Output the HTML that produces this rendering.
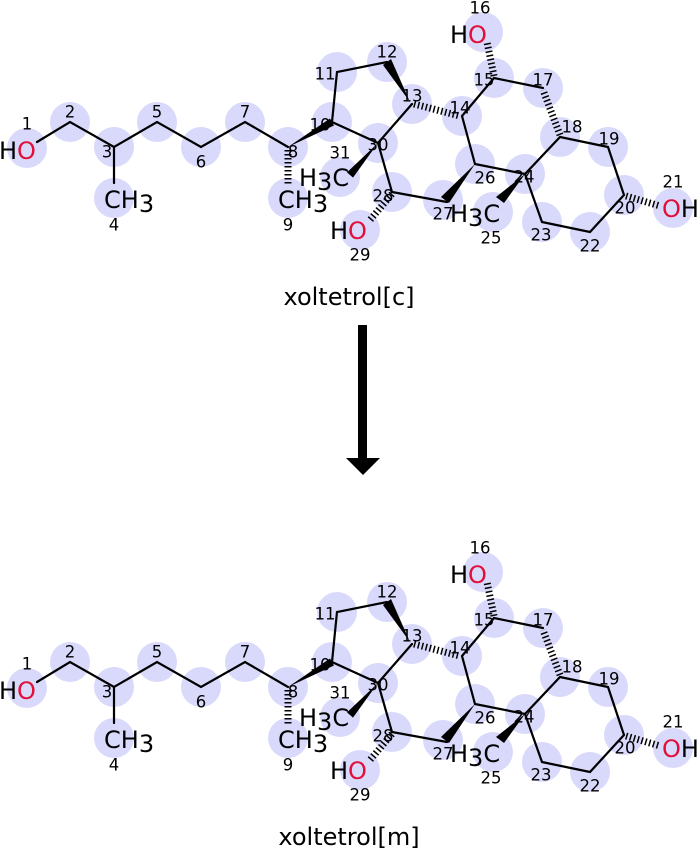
<!DOCTYPE html>
<html><head><meta charset="utf-8"><style>
html,body{margin:0;padding:0;background:#fff;width:700px;height:850px;overflow:hidden}
svg{display:block}
text{font-family:"DejaVu Sans","Liberation Sans",sans-serif}
.c{fill:#d9d9fc}
.b{stroke:#000;stroke-width:2.2;fill:none;stroke-linecap:round}
.h{stroke:#000;stroke-width:7;stroke-dasharray:1.5,2.5;fill:none}
.n{font-size:16.5px;text-anchor:middle;dominant-baseline:central}
.a{font-size:24px}
.r{fill:#e0103a}
</style></head><body>
<svg width="700" height="850" viewBox="0 0 700 850" xmlns="http://www.w3.org/2000/svg">
<g id="m1">
<g class="c">
<circle cx="27" cy="148" r="20"/><circle cx="70" cy="122" r="20"/><circle cx="114" cy="147" r="20"/><circle cx="114" cy="198" r="20"/>
<circle cx="157" cy="122" r="20"/><circle cx="201" cy="147" r="20"/><circle cx="245" cy="122" r="20"/><circle cx="288" cy="147" r="20"/>
<circle cx="288" cy="198" r="20"/><circle cx="332" cy="122" r="20"/><circle cx="337" cy="72" r="20"/><circle cx="387" cy="62" r="20"/>
<circle cx="412" cy="104" r="20"/><circle cx="462" cy="116" r="20"/><circle cx="494" cy="78" r="20"/><circle cx="483" cy="32" r="20"/>
<circle cx="543" cy="88" r="20"/><circle cx="560" cy="137" r="20"/><circle cx="608" cy="147" r="20"/><circle cx="624" cy="195" r="20"/>
<circle cx="673" cy="208" r="20"/><circle cx="590" cy="232" r="20"/><circle cx="542" cy="222" r="20"/><circle cx="525" cy="174" r="20"/>
<circle cx="493" cy="212" r="20"/><circle cx="475" cy="164" r="20"/><circle cx="443" cy="200" r="20"/><circle cx="392" cy="192" r="20"/>
<circle cx="360" cy="230" r="20"/><circle cx="378" cy="143" r="20"/><circle cx="340" cy="177" r="20"/>
</g>
<path class="b" d="M37,142 L70,122 L114,147 L157,122 L201,147 L245,122 L288,147 M114,147 L114,183 M332,122 L337,72 L387,62 M332,122 L378,143 L412,104 M378,143 L392,192 L447,202 M462,116 L494,78 L543,88 M462,116 L475,164 L525,174 L560,137 L608,147 L624,195 L590,232 L542,222 L525,174"/>
<polygon points="288,147 330,118.5 334,125.5"/>
<polygon points="378,143 353,177.6 347,172.4"/>
<polygon points="410,102 391,59 383,65"/>
<polygon points="475,164 449,203 441,197"/>
<polygon points="525,174 504,203 496,197"/>
<path class="h" d="M288,150 L288,185 M392,194 L370,220 M414,104 L460,116 M494,76 L487,42 M560,135 L543,90 M626,196 L660,206"/>
<text class="a" x="-1" y="159">H<tspan class="r">O</tspan></text>
<text class="a" x="104" y="208">CH<tspan dy="4">3</tspan></text>
<text class="a" x="278" y="208">CH<tspan dy="4">3</tspan></text>
<text class="a" x="299" y="186">H<tspan dy="4">3</tspan><tspan dy="-4">C</tspan></text>
<text class="a" x="450" y="222">H<tspan dy="4">3</tspan><tspan dy="-4">C</tspan></text>
<text class="a" x="330" y="239">H<tspan class="r">O</tspan></text>
<text class="a" x="450" y="43">H<tspan class="r">O</tspan></text>
<text class="a" x="662" y="217"><tspan class="r">O</tspan>H</text>
<g class="n">
<text x="27" y="124">1</text><text x="70" y="112">2</text><text x="107" y="152">3</text><text x="114" y="225">4</text>
<text x="157" y="112">5</text><text x="201" y="162">6</text><text x="245" y="112">7</text><text x="293" y="152">8</text>
<text x="288" y="225">9</text><text x="320" y="125">10</text><text x="325" y="74">11</text><text x="387" y="52">12</text>
<text x="412" y="96">13</text><text x="460" y="108">14</text><text x="484" y="80">15</text><text x="480" y="8">16</text>
<text x="543" y="80">17</text><text x="572" y="127">18</text><text x="609" y="139">19</text><text x="625" y="208">20</text>
<text x="673" y="182">21</text><text x="590" y="246">22</text><text x="541" y="235">23</text><text x="524" y="177">24</text>
<text x="491" y="238">25</text><text x="485" y="178">26</text><text x="443" y="214">27</text><text x="383" y="196">28</text>
<text x="360" y="255">29</text><text x="340" y="153">31</text><text x="378" y="145">30</text>
</g>
</g>
<text x="349" y="305" font-size="24" text-anchor="middle">xoltetrol[c]</text>
<rect x="358" y="325" width="9" height="135" fill="#000"/>
<polygon points="346,458 380,458 363,475" fill="#000"/>
<g transform="translate(0,540)">
<g class="c">
<circle cx="27" cy="148" r="20"/><circle cx="70" cy="122" r="20"/><circle cx="114" cy="147" r="20"/><circle cx="114" cy="198" r="20"/>
<circle cx="157" cy="122" r="20"/><circle cx="201" cy="147" r="20"/><circle cx="245" cy="122" r="20"/><circle cx="288" cy="147" r="20"/>
<circle cx="288" cy="198" r="20"/><circle cx="332" cy="122" r="20"/><circle cx="337" cy="72" r="20"/><circle cx="387" cy="62" r="20"/>
<circle cx="412" cy="104" r="20"/><circle cx="462" cy="116" r="20"/><circle cx="494" cy="78" r="20"/><circle cx="483" cy="32" r="20"/>
<circle cx="543" cy="88" r="20"/><circle cx="560" cy="137" r="20"/><circle cx="608" cy="147" r="20"/><circle cx="624" cy="195" r="20"/>
<circle cx="673" cy="208" r="20"/><circle cx="590" cy="232" r="20"/><circle cx="542" cy="222" r="20"/><circle cx="525" cy="174" r="20"/>
<circle cx="493" cy="212" r="20"/><circle cx="475" cy="164" r="20"/><circle cx="443" cy="200" r="20"/><circle cx="392" cy="192" r="20"/>
<circle cx="360" cy="230" r="20"/><circle cx="378" cy="143" r="20"/><circle cx="340" cy="177" r="20"/>
</g>
<path class="b" d="M37,142 L70,122 L114,147 L157,122 L201,147 L245,122 L288,147 M114,147 L114,183 M332,122 L337,72 L387,62 M332,122 L378,143 L412,104 M378,143 L392,192 L447,202 M462,116 L494,78 L543,88 M462,116 L475,164 L525,174 L560,137 L608,147 L624,195 L590,232 L542,222 L525,174"/>
<polygon points="288,147 330,118.5 334,125.5"/>
<polygon points="378,143 353,177.6 347,172.4"/>
<polygon points="410,102 391,59 383,65"/>
<polygon points="475,164 449,203 441,197"/>
<polygon points="525,174 504,203 496,197"/>
<path class="h" d="M288,150 L288,185 M392,194 L370,220 M414,104 L460,116 M494,76 L487,42 M560,135 L543,90 M626,196 L660,206"/>
<text class="a" x="-1" y="159">H<tspan class="r">O</tspan></text>
<text class="a" x="104" y="208">CH<tspan dy="4">3</tspan></text>
<text class="a" x="278" y="208">CH<tspan dy="4">3</tspan></text>
<text class="a" x="299" y="186">H<tspan dy="4">3</tspan><tspan dy="-4">C</tspan></text>
<text class="a" x="450" y="222">H<tspan dy="4">3</tspan><tspan dy="-4">C</tspan></text>
<text class="a" x="330" y="239">H<tspan class="r">O</tspan></text>
<text class="a" x="450" y="43">H<tspan class="r">O</tspan></text>
<text class="a" x="662" y="217"><tspan class="r">O</tspan>H</text>
<g class="n">
<text x="27" y="124">1</text><text x="70" y="112">2</text><text x="107" y="152">3</text><text x="114" y="225">4</text>
<text x="157" y="112">5</text><text x="201" y="162">6</text><text x="245" y="112">7</text><text x="293" y="152">8</text>
<text x="288" y="225">9</text><text x="320" y="125">10</text><text x="325" y="74">11</text><text x="387" y="52">12</text>
<text x="412" y="96">13</text><text x="460" y="108">14</text><text x="484" y="80">15</text><text x="480" y="8">16</text>
<text x="543" y="80">17</text><text x="572" y="127">18</text><text x="609" y="139">19</text><text x="625" y="208">20</text>
<text x="673" y="182">21</text><text x="590" y="246">22</text><text x="541" y="235">23</text><text x="524" y="177">24</text>
<text x="491" y="238">25</text><text x="485" y="178">26</text><text x="443" y="214">27</text><text x="383" y="196">28</text>
<text x="360" y="255">29</text><text x="340" y="153">31</text><text x="378" y="145">30</text>
</g>
</g>
<text x="349" y="845" font-size="24" text-anchor="middle">xoltetrol[m]</text>
</svg>
</body></html>
